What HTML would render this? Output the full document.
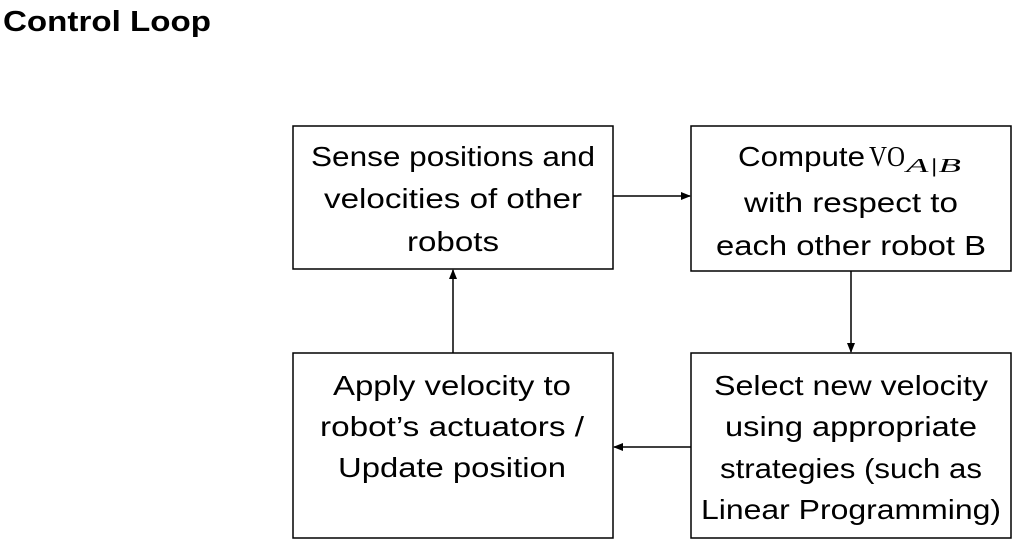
<!DOCTYPE html>
<html><head><meta charset="utf-8"><style>
html,body{margin:0;padding:0;background:#fff;}
svg{display:block;}
text{fill:#000;}
</style></head><body>
<svg width="1025" height="549" viewBox="0 0 1025 549" xmlns="http://www.w3.org/2000/svg" font-family="Liberation Sans, sans-serif">
<defs><marker id="a" markerWidth="10" markerHeight="8" refX="9" refY="4" orient="auto" markerUnits="userSpaceOnUse"><path d="M0,0 L10,4 L0,8 z" fill="#000"/></marker></defs>
<text x="3" y="31" font-size="29" font-weight="bold" textLength="208" lengthAdjust="spacingAndGlyphs">Control Loop</text>
<g fill="none" stroke="#000" stroke-width="1.5">
<rect x="293" y="126" width="320" height="143"/>
<rect x="691" y="126" width="320" height="145"/>
<rect x="691" y="353" width="320" height="185"/>
<rect x="293" y="353" width="320" height="185"/>
<line x1="613" y1="196" x2="690" y2="196" marker-end="url(#a)"/>
<line x1="851" y1="271" x2="851" y2="352" marker-end="url(#a)"/>
<line x1="691" y1="447" x2="614" y2="447" marker-end="url(#a)"/>
<line x1="453" y1="353" x2="453" y2="270" marker-end="url(#a)"/>
</g>
<text x="738" y="166" font-size="28" textLength="127" lengthAdjust="spacingAndGlyphs">Compute</text>
<text x="869" y="166" font-size="28" style="font-family:'Liberation Serif',serif" textLength="36" lengthAdjust="spacingAndGlyphs">VO</text>
<text x="906" y="172" font-size="20" style="font-family:'Liberation Serif',serif;font-style:italic" textLength="55" lengthAdjust="spacingAndGlyphs">A|B</text>
<g font-size="28" text-anchor="middle">
<text x="453" y="166" textLength="284" lengthAdjust="spacingAndGlyphs">Sense positions and</text>
<text x="453" y="208" textLength="258" lengthAdjust="spacingAndGlyphs">velocities of other</text>
<text x="453" y="251" textLength="92" lengthAdjust="spacingAndGlyphs">robots</text>
<text x="851" y="212" textLength="214" lengthAdjust="spacingAndGlyphs">with respect to</text>
<text x="851" y="255" textLength="270" lengthAdjust="spacingAndGlyphs">each other robot B</text>
<text x="851" y="395" textLength="274" lengthAdjust="spacingAndGlyphs">Select new velocity</text>
<text x="851" y="436" textLength="252" lengthAdjust="spacingAndGlyphs">using appropriate</text>
<text x="851" y="478" textLength="262" lengthAdjust="spacingAndGlyphs">strategies (such as</text>
<text x="851" y="519" textLength="300" lengthAdjust="spacingAndGlyphs">Linear Programming)</text>
<text x="452" y="395" textLength="238" lengthAdjust="spacingAndGlyphs">Apply velocity to</text>
<text x="452" y="436" textLength="264" lengthAdjust="spacingAndGlyphs">robot’s actuators /</text>
<text x="452" y="477" textLength="228" lengthAdjust="spacingAndGlyphs">Update position</text>
</g>
</svg>
</body></html>
